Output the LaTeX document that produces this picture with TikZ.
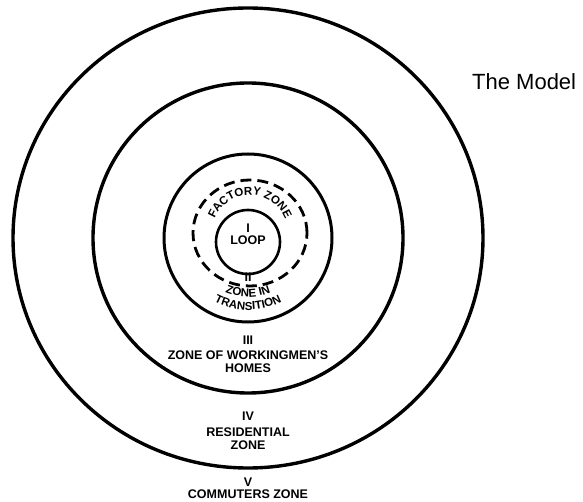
\documentclass[tikz,border=0pt]{standalone}
\usepackage{fontspec}
\setmainfont{Liberation Sans}
\usetikzlibrary{decorations.text}

\begin{document}
\begin{tikzpicture}[
  x=1pt, y=1pt,
  ring/.style={draw=black, line width=3.4pt},
  dashring/.style={draw=black, line width=2.8pt, dash pattern=on 11pt off 6pt},
  label/.style={font=\fontsize{12.5}{13}\selectfont\bfseries, inner sep=0pt, align=center},
  arclabel/.style={decorate, decoration={text along path, text align=center,
    text={|\fontsize{11.5}{12}\selectfont\bfseries|#1}}}
]
  \useasboundingbox (0,0) rectangle (583,501);
  \coordinate (city) at (248,263);
  \coordinate (factory) at (250,268);
  \coordinate (loop) at (248,259);

  % zones
  \draw[ring] (city) ellipse[x radius=235, y radius=230];
  \draw[ring] (city) circle[radius=155];
  \draw[ring, line width=3pt] (city) circle[radius=84];
  \draw[dashring] (factory) ellipse[x radius=57, y radius=53];
  \draw[ring, line width=2.6pt] (loop) circle[radius=32];

  % labels
  \node[label] (loopnum) at (248,273) {I};
  \node[label] (looptxt) at (248,261) {LOOP};
  \path[arclabel={FACTORY ZONE}] ([shift={(162:38)}]factory) arc[start angle=162, end angle=18, radius=38];
  \node[label] (transnum) at (248,224) {II};
  \path[arclabel={ZONE IN}] ([shift={(235:59)}]city) arc[start angle=235, end angle=305, radius=59];
  \path[arclabel={TRANSITION}] ([shift={(230:72)}]city) arc[start angle=230, end angle=310, radius=72];
  \node[label] (worknum) at (248,161) {III};
  \node[label] (worktxt) at (248,139.5) {ZONE OF WORKINGMEN'S\\HOMES};
  \node[label] (resnum) at (248,85) {IV};
  \node[label] (restxt) at (248,62) {RESIDENTIAL\\ZONE};
  \node[label] (comnum) at (248,19) {V};
  \node[label] (comtxt) at (248,7) {COMMUTERS ZONE};
  \node[anchor=west, inner sep=0pt, font=\fontsize{22}{24}\selectfont] (title) at (472,419) {The Model};
\end{tikzpicture}
\end{document}
